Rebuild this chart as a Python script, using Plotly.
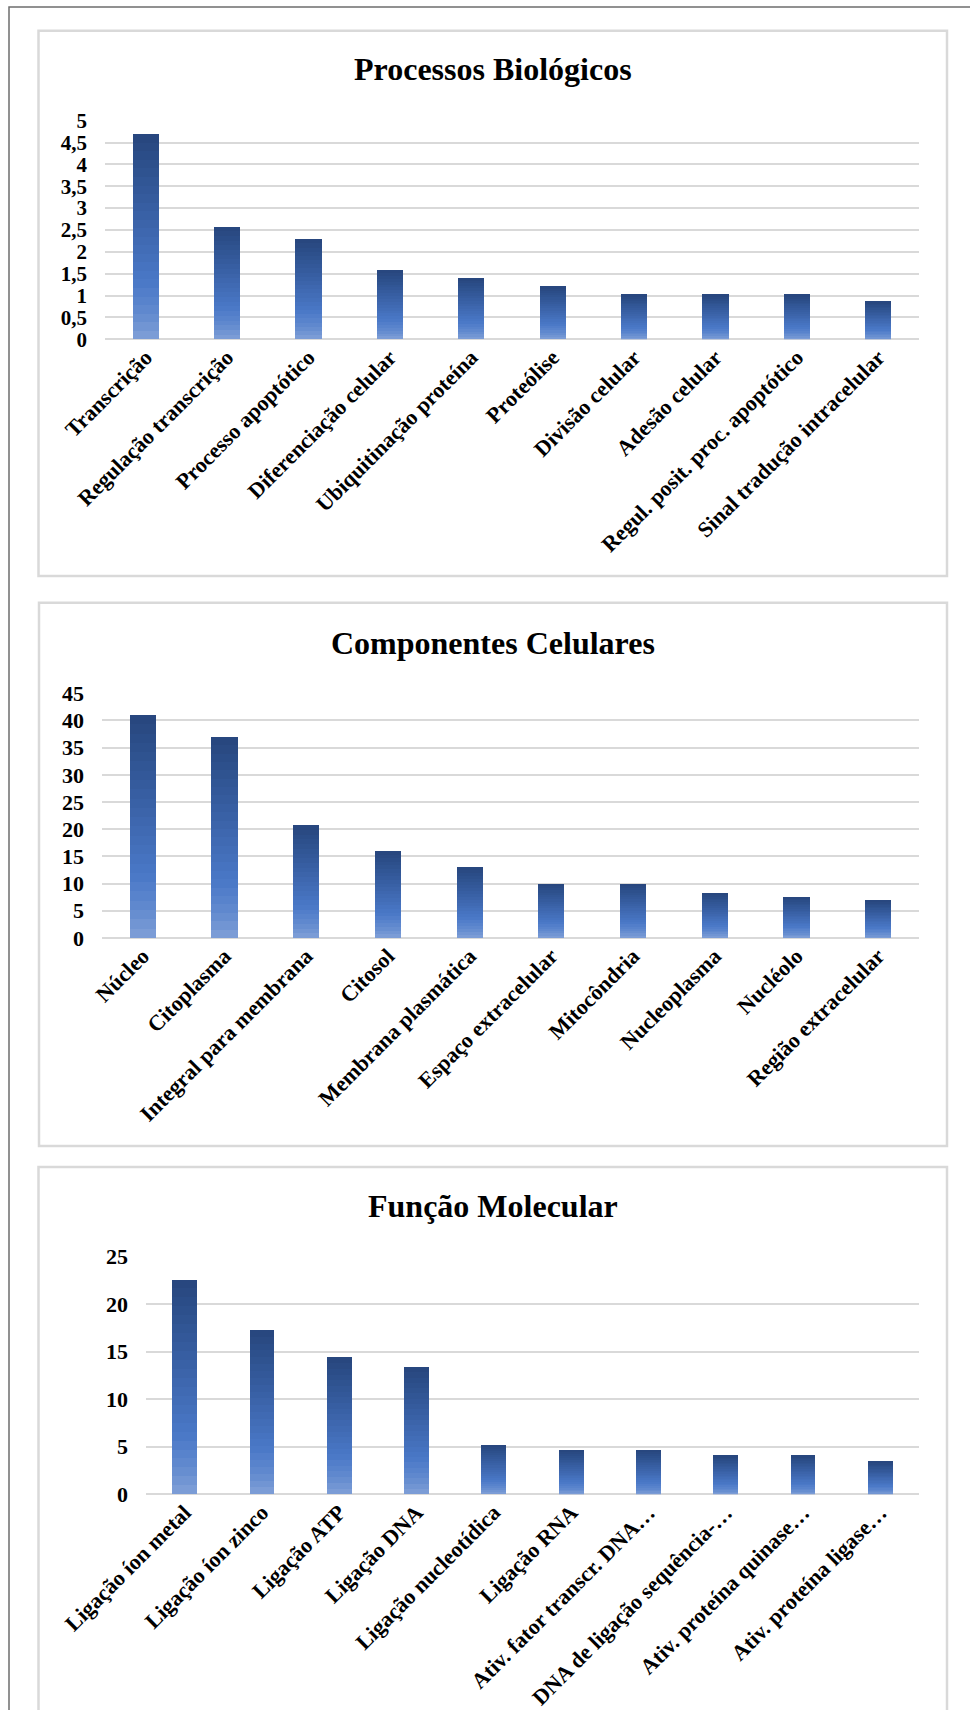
import plotly.graph_objects as go

# ---------------- data ----------------
bp_title = "Processos Biológicos"
bp_categories = ["Transcrição", "Regulação transcrição", "Processo apoptótico",
                 "Diferenciação celular", "Ubiquitinação proteína", "Proteólise",
                 "Divisão celular", "Adesão celular", "Regul. posit. proc. apoptótico",
                 "Sinal tradução intracelular"]
bp_values = [4.69, 2.58, 2.29, 1.58, 1.40, 1.21, 1.03, 1.03, 1.03, 0.87]
bp_tickvals = [0, 0.5, 1, 1.5, 2, 2.5, 3, 3.5, 4, 4.5, 5]
bp_ticktext = ["0", "0,5", "1", "1,5", "2", "2,5", "3", "3,5", "4", "4,5", "5"]

cc_title = "Componentes Celulares"
cc_categories = ["Núcleo", "Citoplasma", "Integral para membrana", "Citosol",
                 "Membrana plasmática", "Espaço extracelular", "Mitocôndria",
                 "Nucleoplasma", "Nucléolo", "Região extracelular"]
cc_values = [41.0, 37.0, 20.7, 16.0, 13.0, 10.0, 10.0, 8.3, 7.6, 6.9]
cc_tickvals = [0, 5, 10, 15, 20, 25, 30, 35, 40, 45]
cc_ticktext = ["0", "5", "10", "15", "20", "25", "30", "35", "40", "45"]

mf_title = "Função Molecular"
mf_categories = ["Ligação íon metal", "Ligação íon zinco", "Ligação ATP", "Ligação DNA",
                 "Ligação nucleotídica", "Ligação RNA", "Ativ. fator transcr. DNA…",
                 "DNA de ligação sequência-…", "Ativ. proteína quinase…",
                 "Ativ. proteína ligase…"]
mf_values = [22.6, 17.3, 14.4, 13.4, 5.2, 4.7, 4.7, 4.1, 4.1, 3.5]
mf_tickvals = [0, 5, 10, 15, 20, 25]
mf_ticktext = ["0", "5", "10", "15", "20", "25"]

# ---------------- styling ----------------
W, H = 970, 1710
FONT = "Liberation Serif, Times New Roman, serif"
GRID = "#d9d9d9"
# gradient from bar bottom (0) to bar top (1)
GRAD = [(0.0, "#809fd7"), (0.12, "#638bcf"), (0.28, "#4a78c7"),
        (0.5, "#3f68b1"), (0.72, "#33599a"), (1.0, "#27467d")]
NSEG = 24


def hex2rgb(h):
    h = h.lstrip("#")
    return tuple(int(h[i:i + 2], 16) for i in (0, 2, 4))


def grad_color(t):
    for (t0, c0), (t1, c1) in zip(GRAD[:-1], GRAD[1:]):
        if t0 <= t <= t1:
            f = (t - t0) / (t1 - t0)
            a, b = hex2rgb(c0), hex2rgb(c1)
            return "rgb(%d,%d,%d)" % tuple(round(a[i] + (b[i] - a[i]) * f) for i in range(3))
    return GRAD[-1][1]


def px_x(x):
    return x / W


def px_y(y):
    return 1 - y / H


panels = [
    dict(title=bp_title, cats=bp_categories, vals=bp_values, tv=bp_tickvals, tt=bp_ticktext,
         rng=[0, 5], xdom=(105, 919), ytop=120.7, ybot=339.3, title_y=69, tfs=21,
         box=(38.5, 30.7, 947, 576)),
    dict(title=cc_title, cats=cc_categories, vals=cc_values, tv=cc_tickvals, tt=cc_ticktext,
         rng=[0, 45], xdom=(102, 919), ytop=693.3, ybot=937.9, title_y=642.5, tfs=22,
         box=(39, 602.7, 947, 1146)),
    dict(title=mf_title, cats=mf_categories, vals=mf_values, tv=mf_tickvals, tt=mf_ticktext,
         rng=[0, 25], xdom=(146, 919), ytop=1256.7, ybot=1494.3, title_y=1205.5, tfs=22,
         box=(38.5, 1167, 947, 1740)),
]

fig = go.Figure()
shapes = []
annotations = []

# outer frame
shapes.append(dict(type="rect", xref="paper", yref="paper",
                   x0=px_x(9), x1=px_x(975), y0=px_y(1715), y1=px_y(7),
                   line=dict(color="#6e6e6e", width=1.5), fillcolor="rgba(0,0,0,0)",
                   layer="below"))

for i, p in enumerate(panels):
    sfx = "" if i == 0 else str(i + 1)
    xa, ya = "x" + sfx, "y" + sfx
    for k in range(NSEG):
        fig.add_trace(go.Bar(
            x=p["cats"], y=[v / NSEG for v in p["vals"]],
            xaxis=xa, yaxis=ya,
            marker=dict(color=grad_color((k + 0.5) / NSEG), line=dict(width=0)),
            showlegend=False, hoverinfo="skip"))

    fig.layout["xaxis" + sfx] = dict(
        domain=[px_x(p["xdom"][0]), px_x(p["xdom"][1])],
        anchor=ya, type="category", tickangle=-45, automargin=False,
        tickfont=dict(family=FONT, size=22, color="#000000", weight="bold"),
        showgrid=False, zeroline=False, showline=False, ticks="",
        fixedrange=True)
    fig.layout["yaxis" + sfx] = dict(
        domain=[px_y(p["ybot"]), px_y(p["ytop"])],
        anchor=xa, range=p["rng"], tickmode="array", automargin=False,
        tickvals=p["tv"], ticktext=p["tt"],
        tickfont=dict(family=FONT, size=p["tfs"], color="#000000", weight="bold"),
        showgrid=True, gridcolor=GRID, gridwidth=1.5,
        zeroline=True, zerolinecolor=GRID, zerolinewidth=1.5,
        showline=False, ticks="", ticklabelstandoff=17, fixedrange=True)

    x0, y0, x1, y1 = p["box"]
    shapes.append(dict(type="rect", xref="paper", yref="paper",
                       x0=px_x(x0), x1=px_x(x1), y0=px_y(y1), y1=px_y(y0),
                       line=dict(color="#d9d9d9", width=2.5),
                       fillcolor="rgba(0,0,0,0)", layer="below"))
    annotations.append(dict(text="<b>%s</b>" % p["title"], xref="paper", yref="paper",
                            x=px_x((x0 + x1) / 2), y=px_y(p["title_y"]),
                            xanchor="center", yanchor="middle", showarrow=False,
                            font=dict(family=FONT, size=32, color="#000000")))

fig.update_layout(
    template="none",
    width=W, height=H, margin=dict(l=0, r=0, t=0, b=0, pad=0, autoexpand=False),
    paper_bgcolor="white", plot_bgcolor="white",
    barmode="stack", bargap=0.68,
    shapes=shapes, annotations=annotations,
    showlegend=False,
)

fig.write_html("out.html")
